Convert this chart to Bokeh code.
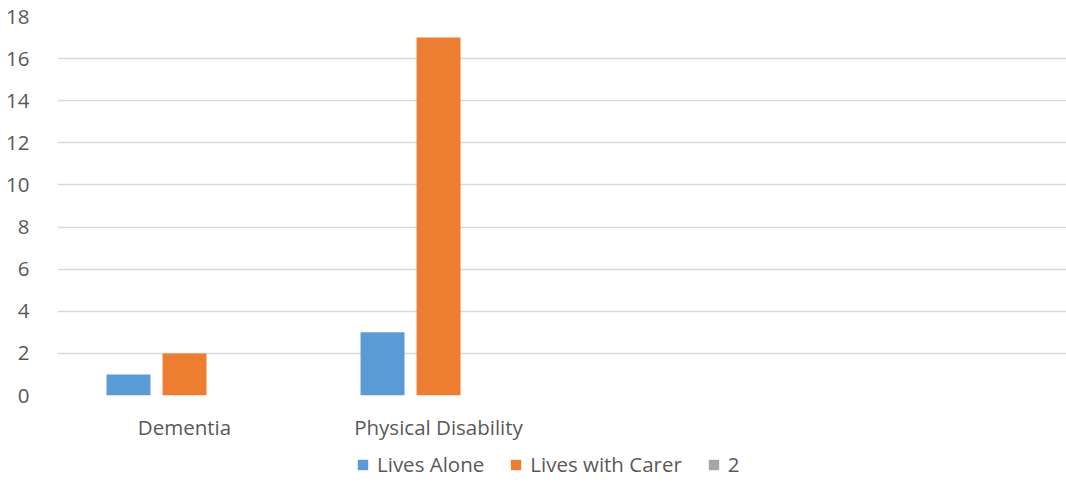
from bokeh.plotting import figure
from bokeh.layouts import column
from bokeh.models import (ColumnDataSource, Range1d, FixedTicker, Legend, LegendItem)
from bokeh.embed import file_html
from bokeh.resources import INLINE

# ---- data ----
categories = ["Dementia", "Physical Disability", "", ""]
lives_alone = [1, 3, 0, 0]
lives_with_carer = [2, 17, 0, 0]
series_2 = [0, 0, 0, 0]
series_names = ["Lives Alone", "Lives with Carer", "2"]
y_ticks = [0, 2, 4, 6, 8, 10, 12, 14, 16, 18]

colors = ["#5B9BD5", "#ED7D31", "#A5A5A5"]
FONT = "Open Sans"
TEXT_COLOR = "#595959"
FS = "20.5px"

centers = [i + 0.5 for i in range(len(categories))]
offsets = [-0.2205, 0.0, 0.2205]
bar_w = 0.173

p = figure(width=1066, height=450, output_backend="svg", toolbar_location=None,
           x_range=Range1d(0, 3.972), y_range=Range1d(0, 18),
           min_border_left=57, min_border_right=0, min_border_top=16,
           min_border_bottom=55)
p.outline_line_color = None
p.background_fill_color = "white"
p.border_fill_color = "white"

series = [lives_alone, lives_with_carer, series_2]
for vals, off, col in zip(series, offsets, colors):
    src = ColumnDataSource(dict(x=[c + off for c in centers], top=vals))
    p.vbar(x="x", top="top", bottom=0, width=bar_w, source=src,
           fill_color=col, line_color=None)

p.xaxis.ticker = FixedTicker(ticks=centers)
p.xaxis.major_label_overrides = {c: lab for c, lab in zip(centers, categories)}
p.yaxis.ticker = FixedTicker(ticks=y_ticks)

for ax in (p.xaxis, p.yaxis):
    ax.axis_line_color = None
    ax.major_tick_line_color = None
    ax.minor_tick_line_color = None
    ax.major_label_text_font = FONT
    ax.major_label_text_font_size = FS
    ax.major_label_text_color = TEXT_COLOR
p.yaxis.major_label_standoff = 22
p.xaxis.major_label_standoff = 11

p.xgrid.grid_line_color = None
p.ygrid.grid_line_color = "#D9D9D9"
p.ygrid.grid_line_width = 1.5

# ---- legend strip ----
lg = figure(width=1066, height=46, output_backend="svg", toolbar_location=None,
            x_range=Range1d(0, 1), y_range=Range1d(0, 1),
            x_axis_location=None, y_axis_location=None,
            min_border_left=0, min_border_right=0, min_border_top=0, min_border_bottom=0)
lg.grid.grid_line_color = None
lg.outline_line_color = None
lg.border_fill_color = "white"
lg.background_fill_color = "white"

items = []
for n, col in zip(series_names, colors):
    # zero-height key renderer: only its legend swatch is visible
    r = lg.vbar(x=[0.5], top=[0], bottom=0, width=0.01, fill_color=col, line_color=None)
    items.append(LegendItem(label=n, renderers=[r]))

legend = Legend(items=items, orientation="horizontal", location=(299, 18),
                label_text_font=FONT, label_text_font_size=FS,
                label_text_color=TEXT_COLOR, glyph_width=13, glyph_height=13,
                spacing=25, padding=0, margin=0, label_standoff=8,
                border_line_color=None, background_fill_alpha=0)
lg.add_layout(legend, "center")

layout = column(p, lg, spacing=0)
open("out.html", "w").write(file_html(layout, INLINE))
